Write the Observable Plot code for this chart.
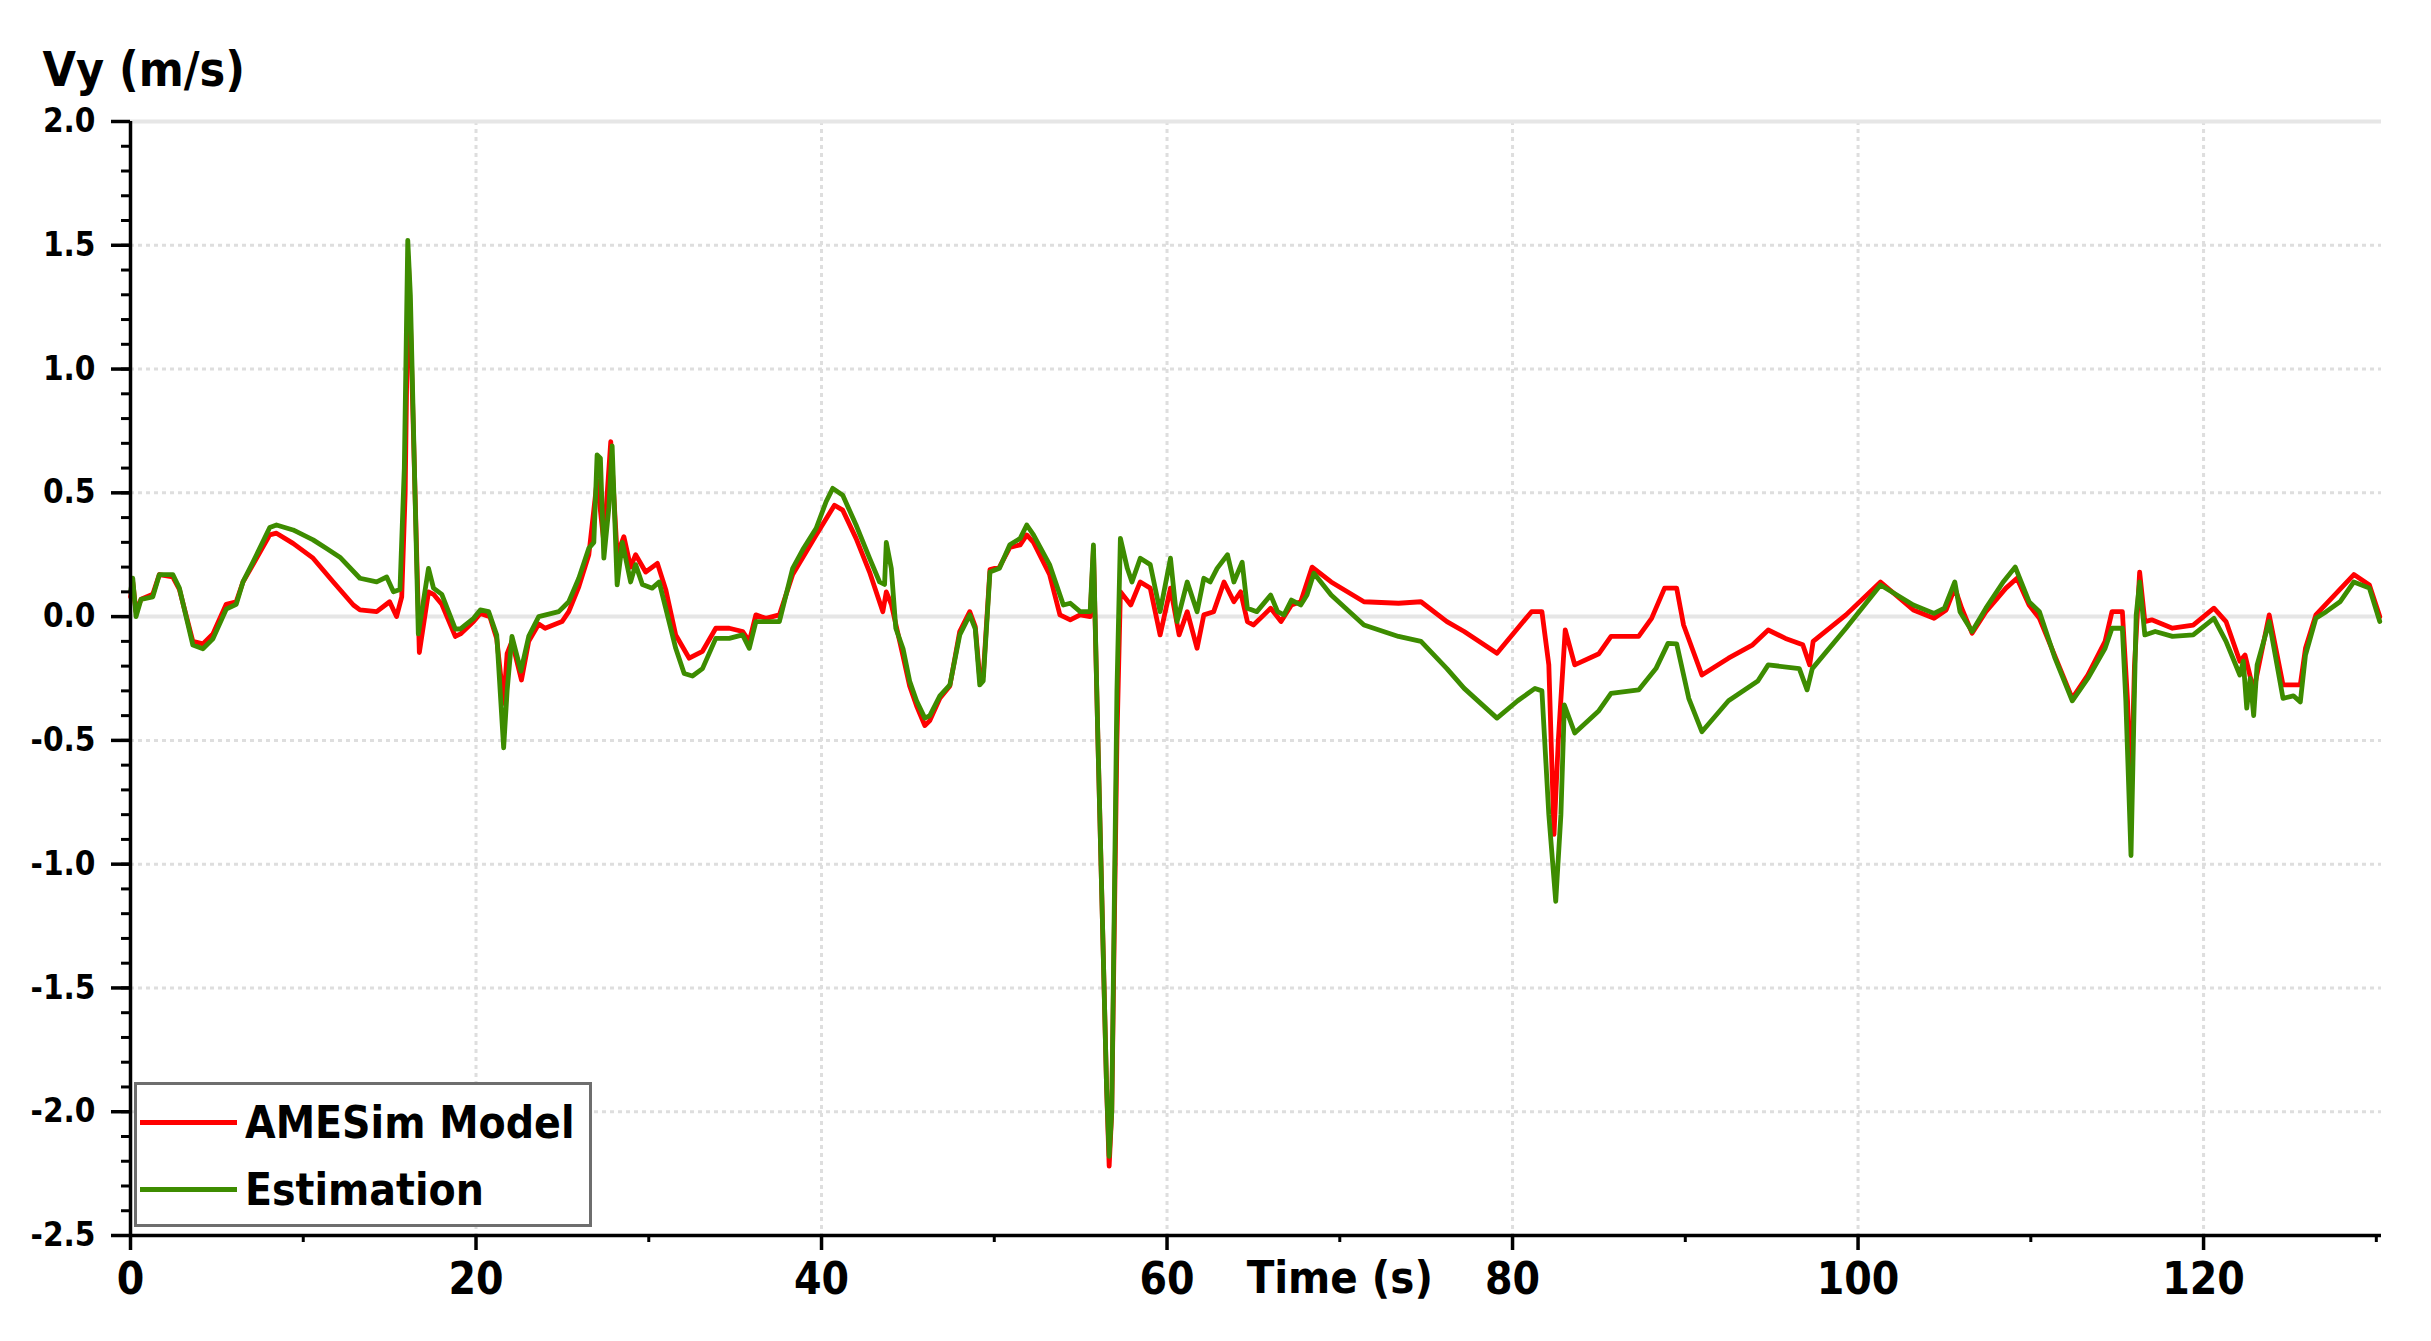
<!DOCTYPE html>
<html>
<head>
<meta charset="utf-8">
<script src="https://cdn.jsdelivr.net/npm/d3@7"></script>
<script src="https://cdn.jsdelivr.net/npm/@observablehq/plot@0.6"></script>
<style>
  html, body { margin: 0; padding: 0; background: #fff; }
  #wrap { position: relative; width: 2431px; height: 1341px; overflow: hidden; }
  #wrap svg { display: block; }
  .legend { position: absolute; box-sizing: border-box; background: #fff; border: 3px solid #6e6e6e; }
  .legend .sw { position: absolute; height: 5px; }
  .legend .lb { position: absolute; font-weight: bold; font-size: 44px; line-height: 50px; height: 50px; white-space: nowrap; color: #000; }
</style>
</head>
<body>
<div id="wrap"></div>
<script>
const FONT = "'DejaVu Sans Condensed', 'DejaVu Sans', sans-serif";

// ---- texts ----
const yAxisTitle = "Vy (m/s)";
const xAxisTitle = "Time (s)";
const xAxisTitleAt = 70;
const seriesNames = ["AMESim Model", "Estimation"];
const seriesColors = ["#ff0000", "#3d8c00"];

// ---- ticks ----
const xMajorTicks = [0, 20, 40, 60, 80, 100, 120];
const xMinorTicks = [10, 30, 50, 70, 90, 110, 130];
const yMajorTicks = [-2.5, -2.0, -1.5, -1.0, -0.5, 0.0, 0.5, 1.0, 1.5, 2.0];
const yMinorTicks = d3.range(-25, 21).map(i => i / 10);

// ---- AMESim Model (red) ----
const amesimTime = [0.0,0.13,0.32,0.61,1.29,1.67,2.45,2.83,3.61,4.19,4.77,5.54,6.12,6.51,7.09,8.06,8.45,9.41,10.57,11.74,12.9,13.28,14.25,15.0,15.4,15.7,15.9,16.08,16.2,16.72,17.25,17.54,18.02,18.8,19.1,19.86,20.25,20.8,21.2,21.6,21.8,22.08,22.63,23.05,23.63,24.0,24.98,25.37,25.95,26.53,27.01,27.4,27.8,28.17,28.56,28.95,29.24,29.82,30.5,30.98,31.56,32.34,33.11,33.88,34.66,35.43,35.82,36.2,36.78,37.56,38.33,39.69,40.75,41.23,42.0,42.78,43.55,43.75,44.04,44.72,45.1,45.5,45.98,46.27,46.85,47.43,48.0,48.58,48.9,49.16,49.36,49.75,50.3,50.9,51.5,51.88,52.27,53.2,53.8,54.4,54.97,55.55,55.74,56.0,56.5,56.65,56.8,57.1,57.3,57.9,58.45,59.03,59.6,60.2,60.7,61.17,61.74,62.13,62.7,63.3,63.87,64.26,64.65,65.0,65.61,66.0,66.6,67.2,67.74,68.4,69.5,71.4,73.4,74.7,76.2,77.2,79.1,81.1,81.7,82.1,82.4,82.65,83.05,83.6,85.0,85.7,87.3,88.05,88.8,89.5,89.9,90.96,92.5,93.9,94.8,95.8,96.8,97.2,97.4,99.3,101.3,103.2,104.4,105.1,105.6,106.0,106.6,107.4,108.56,109.2,109.9,110.5,112.4,113.3,114.3,114.7,115.3,115.6,115.8,116.0,116.3,116.6,117.0,118.2,119.4,120.6,121.3,122.1,122.4,122.9,123.8,124.6,125.6,125.9,126.5,128.7,129.6,130.2];
const amesimVy = [0.08,0.14,0.02,0.07,0.09,0.17,0.16,0.11,-0.10,-0.11,-0.07,0.05,0.06,0.14,0.21,0.33,0.337,0.296,0.236,0.14,0.047,0.027,0.02,0.06,0.0,0.08,0.5,1.45,1.2,-0.145,0.10,0.09,0.05,-0.08,-0.07,-0.02,0.013,0.0,-0.09,-0.35,-0.15,-0.10,-0.256,-0.10,-0.03,-0.047,-0.02,0.02,0.12,0.25,0.55,0.30,0.707,0.25,0.323,0.20,0.25,0.18,0.215,0.11,-0.074,-0.168,-0.14,-0.047,-0.047,-0.06,-0.10,0.007,-0.007,0.007,0.17,0.33,0.45,0.43,0.316,0.18,0.02,0.10,0.05,-0.16,-0.28,-0.36,-0.44,-0.42,-0.33,-0.28,-0.06,0.02,-0.04,-0.25,-0.24,0.19,0.20,0.28,0.29,0.33,0.30,0.17,0.007,-0.013,0.007,0.0,0.27,-0.5,-1.9,-2.22,-2.0,-0.5,0.10,0.047,0.14,0.115,-0.074,0.115,-0.074,0.02,-0.128,0.007,0.02,0.14,0.06,0.10,-0.02,-0.034,0.007,0.034,-0.02,0.047,0.06,0.20,0.14,0.06,0.054,0.06,-0.02,-0.06,-0.148,0.02,0.02,-0.195,-0.88,-0.5,-0.054,-0.195,-0.15,-0.08,-0.08,-0.007,0.115,0.115,-0.034,-0.236,-0.168,-0.114,-0.054,-0.088,-0.114,-0.195,-0.10,0.007,0.14,0.027,-0.007,0.027,0.115,0.034,-0.067,0.02,0.115,0.155,0.047,-0.007,-0.33,-0.236,-0.10,0.02,0.02,-0.34,-0.75,-0.2,0.18,-0.02,-0.013,-0.047,-0.034,0.034,-0.02,-0.18,-0.155,-0.30,0.007,-0.276,-0.276,-0.128,0.007,0.17,0.128,0.0];

// ---- Estimation (green) ----
const estTime = [0.0,0.13,0.32,0.61,1.29,1.67,2.45,2.83,3.61,4.19,4.77,5.54,6.12,6.51,7.09,8.06,8.45,9.41,10.57,11.35,12.12,13.28,14.25,14.83,15.22,15.6,15.85,16.05,16.2,16.66,17.25,17.54,18.02,18.8,19.1,19.86,20.25,20.73,21.2,21.6,21.8,22.08,22.6,23.05,23.63,24.79,25.37,25.95,26.53,26.82,27.01,27.2,27.4,27.69,27.88,28.17,28.47,28.95,29.24,29.63,30.2,30.6,30.98,31.56,32.05,32.53,33.11,33.88,34.66,35.43,35.82,36.2,36.78,37.56,38.33,38.91,39.69,40.27,40.65,41.23,42.0,42.78,43.36,43.65,43.75,44.04,44.3,44.72,45.1,45.5,45.98,46.27,46.85,47.43,48.0,48.58,48.9,49.16,49.36,49.75,50.3,50.9,51.5,51.88,52.27,53.2,54.0,54.4,54.97,55.55,55.74,56.0,56.5,56.65,56.8,57.1,57.3,57.7,57.97,58.45,59.03,59.6,60.2,60.58,61.17,61.74,62.13,62.5,62.9,63.5,63.87,64.35,64.65,65.2,66.0,66.4,66.77,67.2,67.74,68.1,68.5,69.5,71.4,73.4,74.7,76.2,77.2,79.1,80.3,81.3,81.7,82.1,82.5,82.8,83.0,83.6,85.0,85.7,87.3,88.3,89.0,89.5,90.2,90.96,92.5,94.2,94.8,96.6,97.05,97.35,99.3,101.3,103.2,104.4,105.0,105.6,105.9,106.6,107.4,108.4,109.1,109.9,110.5,111.4,112.4,113.3,114.3,114.7,115.3,115.5,115.8,116.0,116.1,116.3,116.6,117.2,118.2,119.4,120.6,121.3,122.1,122.3,122.5,122.7,122.9,123.1,123.8,124.6,125.2,125.6,125.9,126.5,127.1,127.9,128.7,129.6,130.2];
const estVy = [0.10,0.155,0.0,0.07,0.08,0.17,0.17,0.115,-0.115,-0.13,-0.09,0.03,0.05,0.14,0.22,0.36,0.37,0.35,0.31,0.275,0.24,0.155,0.14,0.16,0.10,0.11,0.60,1.52,1.30,-0.07,0.195,0.115,0.09,-0.05,-0.05,-0.007,0.027,0.02,-0.074,-0.53,-0.30,-0.08,-0.22,-0.08,0.0,0.02,0.06,0.155,0.276,0.30,0.653,0.64,0.236,0.44,0.69,0.128,0.30,0.14,0.21,0.13,0.115,0.14,0.034,-0.128,-0.23,-0.24,-0.21,-0.088,-0.088,-0.074,-0.128,-0.02,-0.02,-0.02,0.195,0.27,0.357,0.465,0.518,0.49,0.37,0.236,0.14,0.13,0.30,0.195,-0.047,-0.13,-0.26,-0.34,-0.41,-0.40,-0.32,-0.276,-0.074,0.007,-0.05,-0.276,-0.26,0.18,0.195,0.29,0.316,0.37,0.33,0.21,0.047,0.054,0.02,0.02,0.29,-0.5,-1.9,-2.18,-2.0,-0.3,0.316,0.195,0.14,0.236,0.21,0.02,0.236,-0.02,0.14,0.02,0.155,0.14,0.195,0.25,0.14,0.22,0.034,0.02,0.087,0.02,0.007,0.067,0.047,0.087,0.175,0.087,-0.034,-0.08,-0.10,-0.21,-0.29,-0.41,-0.34,-0.29,-0.30,-0.8,-1.15,-0.8,-0.357,-0.47,-0.38,-0.31,-0.296,-0.21,-0.108,-0.11,-0.33,-0.465,-0.34,-0.26,-0.195,-0.21,-0.296,-0.21,-0.047,0.128,0.047,0.013,0.034,0.14,0.02,-0.06,0.034,0.14,0.20,0.06,0.02,-0.168,-0.34,-0.25,-0.128,-0.047,-0.047,-0.34,-0.965,-0.3,0.007,0.14,-0.074,-0.06,-0.08,-0.074,-0.007,-0.10,-0.236,-0.18,-0.37,-0.25,-0.40,-0.195,-0.02,-0.33,-0.32,-0.345,-0.155,-0.007,0.02,0.06,0.14,0.115,-0.02];

const amesim = amesimTime.map((t, i) => ({t, v: amesimVy[i]}));
const estimation = estTime.map((t, i) => ({t, v: estVy[i]}));

const gridStyle = {stroke: "#dedede", strokeOpacity: 1, strokeWidth: 3, strokeDasharray: "4,4"};

const chart = Plot.plot({
  width: 2431,
  height: 1341,
  marginLeft: 130,
  marginRight: 50,
  marginTop: 121,
  marginBottom: 106,
  style: {fontFamily: FONT, background: "white", color: "black", overflow: "visible"},
  x: {domain: [0, 130.3], label: null},
  y: {domain: [-2.5, 2.0], label: null},
  marks: [
    Plot.gridX(xMajorTicks.filter(d => d > 0), gridStyle),
    Plot.gridY(yMajorTicks.filter(d => d !== 0 && d > -2.5 && d < 2), gridStyle),
    Plot.ruleY([0, 2], {stroke: "#e6e6e6", strokeWidth: 4}),
    Plot.line(amesim, {x: "t", y: "v", stroke: seriesColors[0], strokeWidth: 4.8, strokeLinejoin: "round"}),
    Plot.line(estimation, {x: "t", y: "v", stroke: seriesColors[1], strokeWidth: 4.8, strokeLinejoin: "round"}),
    Plot.ruleX([0], {stroke: "black", strokeWidth: 3.5}),
    Plot.ruleY([-2.5], {stroke: "black", strokeWidth: 3.5}),
    Plot.axisY(yMinorTicks, {tickSize: 9, fill: "none", strokeWidth: 3, label: null}),
    Plot.axisY(yMajorTicks, {tickSize: 19, tickPadding: 16, tickFormat: d => d.toFixed(1), fontSize: 33, fontWeight: "bold", strokeWidth: 3.5, label: null}),
    Plot.axisX(xMinorTicks, {tickSize: 7, fill: "none", strokeWidth: 3, label: null}),
    Plot.axisX(xMajorTicks, {tickSize: 15, tickPadding: 12, fontSize: 44, fontWeight: "bold", strokeWidth: 3.5, label: null}),
    Plot.text([{t: xAxisTitleAt, label: xAxisTitle}], {x: "t", text: "label", frameAnchor: "bottom", lineAnchor: "top", dy: 26, fontSize: 45, fontWeight: "bold"}),
    Plot.text([yAxisTitle], {frameAnchor: "top-left", textAnchor: "start", lineAnchor: "top", dx: -88, dy: -70, fontSize: 48, fontWeight: "bold"})
  ]
});

const wrap = document.getElementById("wrap");
wrap.appendChild(chart);

// legend (HTML overlay inside the plot area)
const legend = d3.select(wrap).append("div").attr("class", "legend")
  .style("left", "134px").style("top", "1082px").style("width", "458px").style("height", "145px")
  .style("font-family", FONT);
const rowTops = [13, 80];
seriesNames.forEach((name, i) => {
  legend.append("div").attr("class", "sw")
    .style("left", "3px").style("width", "97px").style("top", (rowTops[i] + 22) + "px")
    .style("background", seriesColors[i]);
  legend.append("div").attr("class", "lb")
    .style("left", "108px").style("top", rowTops[i] + "px")
    .text(name);
});
</script>
</body>
</html>
